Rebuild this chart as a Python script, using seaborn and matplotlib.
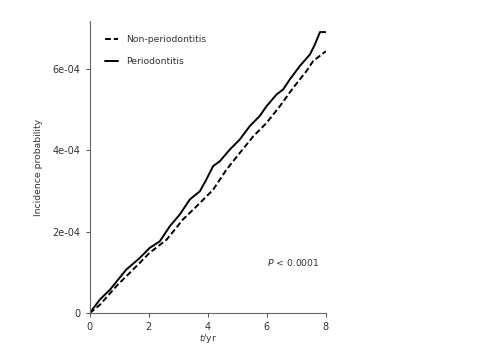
import numpy as np
import pandas as pd
import matplotlib
matplotlib.use("Agg")
import matplotlib.pyplot as plt
import seaborn as sns

# ─── Data ─────────────────────────────────────────────────
t_perio = [0, 0.34, 0.68, 1.24, 1.69, 2.03, 2.37, 2.71, 3.05, 3.39, 3.73, 3.95,
           4.18, 4.41, 4.75, 5.08, 5.42, 5.76, 5.99, 6.33, 6.55, 6.78, 7.12,
           7.46, 7.63, 7.80, 8.00]
p_perio = [0, 0.33e-4, 0.57e-4, 1.07e-4, 1.35e-4, 1.60e-4, 1.76e-4, 2.13e-4,
           2.42e-4, 2.79e-4, 2.99e-4, 3.28e-4, 3.61e-4, 3.73e-4, 4.02e-4,
           4.26e-4, 4.59e-4, 4.84e-4, 5.08e-4, 5.37e-4, 5.49e-4, 5.74e-4,
           6.07e-4, 6.35e-4, 6.60e-4, 6.90e-4, 6.90e-4]

t_non = [0, 0.34, 0.90, 1.47, 2.03, 2.60, 3.16, 3.73, 4.18, 4.63, 5.08, 5.54,
         5.99, 6.44, 6.89, 7.34, 7.57, 8.00]
p_non = [0, 0.20e-4, 0.66e-4, 1.07e-4, 1.48e-4, 1.80e-4, 2.30e-4, 2.70e-4,
         3.03e-4, 3.52e-4, 3.93e-4, 4.34e-4, 4.67e-4, 5.08e-4, 5.53e-4,
         5.94e-4, 6.19e-4, 6.43e-4]

groups = ["Non-periodontitis", "Periodontitis"]
y_ticks = [0, 2e-4, 4e-4, 6e-4]
y_tick_labels = ["0", "2e-04", "4e-04", "6e-04"]
x_ticks = [0, 2, 4, 6, 8]

df = pd.concat([
    pd.DataFrame({"t": t_non, "p": p_non, "group": groups[0]}),
    pd.DataFrame({"t": t_perio, "p": p_perio, "group": groups[1]}),
])

# ─── Style ────────────────────────────────────────────────
TXT = "#333333"
FS = 6.7
sns.set_style("ticks")
plt.rcParams["font.family"] = ["DejaVu Sans"]
plt.rcParams["mathtext.fontset"] = "dejavusans"

fig = plt.figure(figsize=(4.96, 3.64), dpi=100)
ax = fig.add_axes([0.181, 0.140, 0.476, 0.802])

sns.lineplot(data=df, x="t", y="p", style="group", style_order=groups,
             dashes={groups[0]: (3, 1.5), groups[1]: ""},
             color="black", linewidth=1.4, ax=ax, sort=False)

ax.set_xlim(0, 8)
ax.set_ylim(0, 7.17e-4)
ax.set_xticks(x_ticks)
ax.set_xticklabels([str(v) for v in x_ticks])
ax.set_yticks(y_ticks)
ax.set_yticklabels(y_tick_labels)
ax.tick_params(labelsize=7, colors=TXT, length=3, width=0.6)
ax.set_xlabel("$t$/yr", fontsize=FS, color=TXT, labelpad=0)
ax.set_ylabel("Incidence probability", fontsize=FS, color=TXT, labelpad=7)
for s in ["left", "bottom"]:
    ax.spines[s].set_color("#666666")
    ax.spines[s].set_linewidth(0.8)
sns.despine(ax=ax)

ax.text(6.0, 1.25e-4, "$P$ < 0.0001", fontsize=FS, color=TXT, va="center")

leg = ax.legend(loc="upper left", bbox_to_anchor=(0.03, 0.98), frameon=False,
                fontsize=FS, handlelength=1.4, labelspacing=1.4,
                handletextpad=0.8)
for txt in leg.get_texts():
    txt.set_color(TXT)

plt.savefig("out.png", dpi=100)
plt.close()
